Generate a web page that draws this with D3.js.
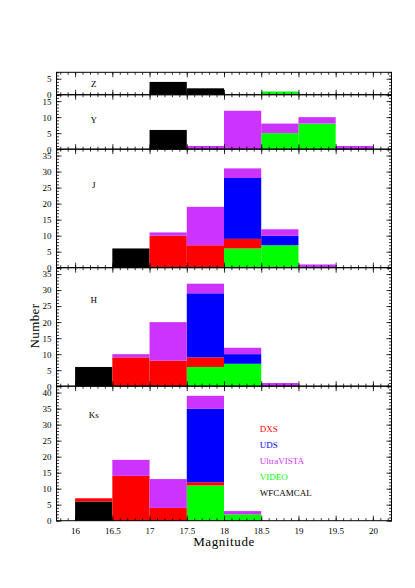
<!DOCTYPE html>
<html>
<head>
	<meta charset="utf-8">
	<title>Magnitude histograms</title>
	<script src="https://d3js.org/d3.v7.min.js"></script>
	<style>
		body { margin: 0; background: #fff; }
		text { font-family: "Liberation Serif", "Times New Roman", serif; }
	</style>
</head>
<body>
<script type="text/javascript">
	// bins are 0.5 mag wide, left edges below
	var binStarts = [16, 16.5, 17, 17.5, 18, 18.5, 19, 19.5];
	var binWidth = 0.5;

	// stacking order, bottom to top
	var surveys = ["WFCAMCAL", "VIDEO", "DXS", "UDS", "UltraVISTA"];
	var surveyColors = ["#000000", "#00ff00", "#ff0000", "#0000ff", "#cc33ff"];
	// legend order
	var legendNames = ["DXS", "UDS", "UltraVISTA", "VIDEO", "WFCAMCAL"];

	var xTicks = [16, 16.5, 17, 17.5, 18, 18.5, 19, 19.5, 20];

	// counts per band, per survey, per bin
	var zCounts = {
		WFCAMCAL:   [0, 0, 4, 2, 0, 0, 0, 0],
		VIDEO:      [0, 0, 0, 0, 0, 1, 0, 0],
		DXS:        [0, 0, 0, 0, 0, 0, 0, 0],
		UDS:        [0, 0, 0, 0, 0, 0, 0, 0],
		UltraVISTA: [0, 0, 0, 0, 0, 0, 0, 0]
	};
	var yCounts = {
		WFCAMCAL:   [0, 0, 6, 0, 0, 0, 0, 0],
		VIDEO:      [0, 0, 0, 0, 0, 5, 8, 0],
		DXS:        [0, 0, 0, 0, 0, 0, 0, 0],
		UDS:        [0, 0, 0, 0, 0, 0, 0, 0],
		UltraVISTA: [0, 0, 0, 1, 12, 3, 2, 1]
	};
	var jCounts = {
		WFCAMCAL:   [0, 6, 0, 0, 0, 0, 0, 0],
		VIDEO:      [0, 0, 0, 0, 6, 7, 0, 0],
		DXS:        [0, 0, 10, 7, 3, 0, 0, 0],
		UDS:        [0, 0, 0, 0, 19, 3, 0, 0],
		UltraVISTA: [0, 0, 1, 12, 3, 2, 1, 0]
	};
	var hCounts = {
		WFCAMCAL:   [6, 0, 0, 0, 0, 0, 0, 0],
		VIDEO:      [0, 0, 0, 6, 7, 0, 0, 0],
		DXS:        [0, 9, 8, 3, 0, 0, 0, 0],
		UDS:        [0, 0, 0, 20, 3, 0, 0, 0],
		UltraVISTA: [0, 1, 12, 3, 2, 1, 0, 0]
	};
	var ksCounts = {
		WFCAMCAL:   [6, 0, 0, 0, 0, 0, 0, 0],
		VIDEO:      [0, 0, 0, 11, 2, 0, 0, 0],
		DXS:        [1, 14, 4, 1, 0, 0, 0, 0],
		UDS:        [0, 0, 0, 23, 0, 0, 0, 0],
		UltraVISTA: [0, 5, 9, 4, 1, 0, 0, 0]
	};

	var bandNames = ["Z", "Y", "J", "H", "Ks"];
	var bandCounts = [zCounts, yCounts, jCounts, hCounts, ksCounts];
	var bandYMax = [7, 17, 37, 37, 42];
	var bandYTicks = [[0, 5], [0, 5, 10, 15], d3.range(0, 36, 5), d3.range(0, 36, 5), d3.range(0, 41, 5)];
	// label position in count units from the panel top
	var bandLabelDepth = [3.5, 8, 11, 10, 9];

	var svgWidth = 415, svgHeight = 588;
	var margin = {top: 72.3, right: 23.5, bottom: 67.3, left: 56.5};
	var width = svgWidth - margin.left - margin.right,
		height = svgHeight - margin.top - margin.bottom;

	var svg = d3.select("body").append("svg")
		.attr("width", svgWidth)
		.attr("height", svgHeight);

	var g = svg.append("g")
		.attr("transform", "translate(" + margin.left + "," + margin.top + ")");

	var x = d3.scaleLinear().domain([15.75, 20.25]).range([0, width]);

	// all panels share the same pixels per count
	var pxPerUnit = height / d3.sum(bandYMax);

	var colorOf = d3.scaleOrdinal().domain(surveys).range(surveyColors);
	var stack = d3.stack().keys(surveys);

	var panelTop = 0;
	bandNames.forEach(function(band, i) {
		var ph = bandYMax[i] * pxPerUnit;
		var panel = g.append("g").attr("transform", "translate(0," + panelTop + ")");
		var y = d3.scaleLinear().domain([0, bandYMax[i]]).range([ph, 0]);

		var counts = bandCounts[i];
		var rows = binStarts.map(function(b, k) {
			var r = {bin: b};
			surveys.forEach(function(s) { r[s] = counts[s][k]; });
			return r;
		});

		var layers = panel.selectAll(".layer")
			.data(stack(rows))
			.enter().append("g")
			.attr("class", "layer")
			.attr("fill", function(d) { return colorOf(d.key); });

		layers.selectAll("rect")
			.data(function(d) { return d.filter(function(e) { return e[1] > e[0]; }); })
			.enter().append("rect")
			.attr("x", function(d) { return x(d.data.bin); })
			.attr("width", function(d) { return x(d.data.bin + binWidth) - x(d.data.bin); })
			.attr("y", function(d) { return y(d[1]); })
			.attr("height", function(d) { return y(d[0]) - y(d[1]); });

		// x ticks, inward on bottom and top
		var isLast = i === bandNames.length - 1;
		var xMinor = d3.range(15.8, 20.25, 0.1);
		panel.append("g").attr("class", "tick-axis")
			.attr("transform", "translate(0," + ph + ")")
			.call(d3.axisBottom(x).tickValues(xMinor).tickSize(-2.5).tickFormat(""));
		panel.append("g").attr("class", "tick-axis")
			.call(d3.axisTop(x).tickValues(xMinor).tickSize(-2.5).tickFormat(""));
		panel.append("g").attr("class", "tick-axis")
			.call(d3.axisTop(x).tickValues(xTicks).tickSize(-5).tickFormat(""));
		panel.append("g").attr("class", "tick-axis x-axis")
			.attr("transform", "translate(0," + ph + ")")
			.call(d3.axisBottom(x).tickValues(xTicks).tickSize(-5).tickPadding(7)
				.tickFormat(isLast ? function(d) { return String(d); } : ""));

		// y ticks, inward on left and right
		var yMinor = d3.range(0, bandYMax[i] + 0.5, 1);
		panel.append("g").attr("class", "tick-axis")
			.call(d3.axisLeft(y).tickValues(yMinor).tickSize(-2.5).tickFormat(""));
		panel.append("g").attr("class", "tick-axis")
			.attr("transform", "translate(" + width + ",0)")
			.call(d3.axisRight(y).tickValues(yMinor).tickSize(-2.5).tickFormat(""));
		panel.append("g").attr("class", "tick-axis")
			.attr("transform", "translate(" + width + ",0)")
			.call(d3.axisRight(y).tickValues(bandYTicks[i]).tickSize(-5).tickFormat(""));
		panel.append("g").attr("class", "tick-axis y-axis")
			.call(d3.axisLeft(y).tickValues(bandYTicks[i]).tickSize(-5).tickPadding(5)
				.tickFormat(d3.format("d")));

		panel.append("rect")
			.attr("width", width)
			.attr("height", ph)
			.attr("fill", "none")
			.attr("stroke", "#000")
			.attr("stroke-width", 1);

		panel.append("text")
			.attr("class", "band-label")
			.attr("x", x(16.25))
			.attr("y", bandLabelDepth[i] * pxPerUnit)
			.attr("dy", "0.35em")
			.attr("text-anchor", "middle")
			.attr("font-size", 9)
			.attr("fill", "#000")
			.text(band);

		panelTop += ph;
	});

	g.selectAll(".tick-axis .domain").remove();
	g.selectAll(".tick-axis line").attr("stroke", "#000").attr("stroke-width", 0.8);
	g.selectAll(".tick-axis text")
		.attr("font-family", "Liberation Serif, serif")
		.attr("font-size", 9)
		.attr("fill", "#000");

	// legend
	var legend = g.append("g").attr("transform", "translate(" + x(18.5) + "," + (height - 89) + ")");
	legend.selectAll("text")
		.data(legendNames)
		.enter().append("text")
		.attr("x", -1.5)
		.attr("y", function(d, k) { return k * 16; })
		.attr("font-size", 9)
		.attr("fill", function(d) { return colorOf(d); })
		.text(function(d) { return d; });

	svg.append("text")
		.attr("x", margin.left + width / 2)
		.attr("y", 546)
		.attr("text-anchor", "middle")
		.attr("font-size", 13)
		.attr("letter-spacing", 0.6)
		.text("Magnitude");

	svg.append("text")
		.attr("transform", "translate(39,326) rotate(-90)")
		.attr("text-anchor", "middle")
		.attr("font-size", 13)
		.attr("letter-spacing", 0.4)
		.text("Number");
</script>
</body>
</html>
